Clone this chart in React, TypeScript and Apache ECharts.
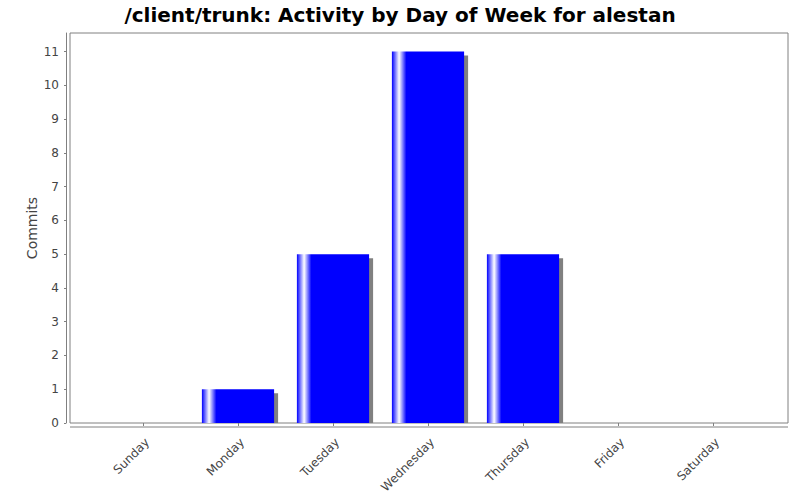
import React, { useEffect, useRef } from "react";
import * as echarts from "echarts";

const categories = ["Sunday", "Monday", "Tuesday", "Wednesday", "Thursday", "Friday", "Saturday"];
const commits = [0, 1, 5, 11, 5, 0, 0];
const yTicks = [0, 1, 2, 3, 4, 5, 6, 7, 8, 9, 10, 11];
const yMax = 11.55;
const titleText = "/client/trunk: Activity by Day of Week for alestan";
const yName = "Commits";

const FONT = "DejaVu Sans";
const GRAY = "#808080";
const BAR_FRAC = 0.76;

export default function App() {
  const ref = useRef<HTMLDivElement>(null);
  useEffect(() => {
    if (!ref.current) return;
    const chart = echarts.init(ref.current, null, { renderer: "svg", width: 800, height: 500 });
    const barGradient = new echarts.graphic.LinearGradient(0, 0, 1, 0, [
      { offset: 0, color: "#0000ff" },
      { offset: 0.1, color: "#ffffff" },
      { offset: 0.2, color: "#0000ff" },
      { offset: 1, color: "#0000ff" },
    ]);
    chart.setOption({
      animation: false,
      backgroundColor: "#ffffff",
      title: {
        text: titleText,
        left: "center",
        top: 0,
        textStyle: { fontFamily: FONT, fontSize: 20, fontWeight: "bold", color: "#000000" },
      },
      grid: { left: 95.5, right: 39.5, top: 33, bottom: 77, containLabel: false },
      xAxis: {
        type: "category",
        data: categories,
        offset: 4,
        axisLine: { show: false },
        axisTick: { show: true, alignWithLabel: true, length: 3, lineStyle: { color: GRAY } },
        axisLabel: {
          rotate: 45,
          fontFamily: FONT,
          fontSize: 12,
          color: "#444444",
          margin: 9,
          verticalAlign: "top",
        },
        splitLine: { show: false },
      },
      yAxis: {
        type: "value",
        min: 0,
        max: yMax,
        interval: 1,
        offset: 29.5,
        name: yName,
        nameLocation: "middle",
        nameGap: 27,
        nameMoveOverlap: false,
        nameTextStyle: { fontFamily: FONT, fontSize: 14, color: "#444444" },
        axisLine: { show: true, lineStyle: { color: GRAY } },
        axisTick: { show: true, length: 2, lineStyle: { color: GRAY }, customValues: yTicks },
        axisLabel: {
          fontFamily: FONT,
          fontSize: 12,
          color: "#444444",
          margin: 7,
          customValues: yTicks,
        },
        splitLine: { show: false },
      },
      graphic: [
        {
          type: "rect",
          shape: { x: 70, y: 33, width: 718, height: 390 },
          style: { fill: "none", stroke: GRAY, lineWidth: 1 },
          z: 0,
          silent: true,
        },
        {
          type: "line",
          shape: { x1: 70, y1: 427, x2: 788, y2: 427 },
          style: { stroke: GRAY, lineWidth: 1 },
          silent: true,
        },
      ],
      series: [
        {
          type: "custom",
          z: 1,
          data: commits.map((v, i) => [i, v]),
          renderItem: (params: any, api: any) => {
            const v = api.value(1);
            if (!v) return null;
            const top = api.coord([api.value(0), v]);
            const base = api.coord([api.value(0), 0]);
            const w = api.size([1, 0])[0] * BAR_FRAC;
            return {
              type: "rect",
              shape: { x: top[0] - w / 2 + 4, y: top[1] + 4, width: w, height: base[1] - top[1] - 4 },
              style: { fill: GRAY },
            };
          },
        },
        {
          type: "bar",
          z: 3,
          data: commits,
          barWidth: (BAR_FRAC * 100).toFixed(0) + "%",
          itemStyle: { color: barGradient },
        },
      ],
    });
    return () => chart.dispose();
  }, []);
  return <div ref={ref} style={{ position: "absolute", left: 0, top: 0, width: 800, height: 500 }} />;
}
